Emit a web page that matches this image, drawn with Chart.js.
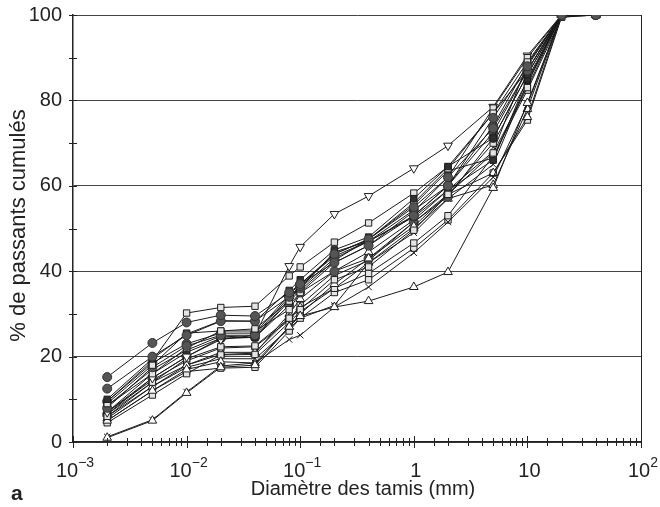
<!DOCTYPE html>
<html>
<head>
<meta charset="utf-8">
<script src="https://cdn.jsdelivr.net/npm/chart.js@4.4.0/dist/chart.umd.min.js"></script>
<style>
  html, body { margin: 0; padding: 0; background: #fff; }
  #wrap { width: 660px; height: 507px; }
</style>
</head>
<body>
<div id="wrap"><canvas id="grading" width="660" height="507"></canvas></div>
<script>
// sieve openings (mm)
const sieveSizes = [0.002, 0.005, 0.01, 0.02, 0.04, 0.08, 0.1, 0.2, 0.4, 1, 2, 5, 10, 20, 40];

// cumulative passing (%) per sample
const s01 = [15.2, 23.2, 28.0, 29.7, 29.5, 35.0, 37.0, 42.0, 46.0, 53.0, 60.0, 75.9, 88.0, 100, 100];
const s02 = [12.5, 20.0, 25.0, 28.3, 28.3, 34.0, 36.5, 44.0, 47.5, 55.0, 62.0, 73.5, 87.0, 100, 100];
const s03 = [10.0, 19.5, 25.3, 28.4, 28.3, 35.5, 38.0, 45.0, 48.0, 57.0, 64.5, 71.2, 86.0, 100, 100];
const s04 = [9.0, 18.0, 25.5, 26.0, 26.5, 33.0, 37.0, 44.0, 47.5, 56.0, 64.0, 77.0, 89.0, 100, 100];
const s05 = [8.0, 17.5, 22.5, 25.0, 25.0, 34.0, 36.0, 43.0, 47.0, 53.0, 60.0, 74.0, 88.5, 100, 100];
const s06 = [8.5, 16.0, 22.0, 26.0, 26.0, 31.0, 35.0, 42.0, 46.0, 54.0, 62.0, 78.2, 90.0, 100, 100];
const s07 = [7.0, 15.0, 20.0, 24.0, 25.0, 41.2, 45.7, 53.4, 57.6, 64.1, 69.4, 78.5, 90.5, 100, 100];
const s08 = [9.5, 19.0, 30.2, 31.5, 31.8, 38.9, 41.0, 46.8, 51.3, 58.3, 64.5, 77.0, 87.0, 100, 100];
const s09 = [1.0, 5.0, 11.5, 17.5, 18.0, 27.0, 29.5, 31.6, 33.0, 36.3, 39.8, 59.5, 79.4, 100, 100];
const s10 = [1.2, 5.2, 11.7, 17.8, 18.5, 24.0, 25.0, 31.6, 36.3, 44.3, 51.5, 62.0, 79.0, 100, 100];
const s11 = [6.0, 14.0, 19.5, 22.3, 22.5, 29.0, 31.0, 38.0, 41.0, 49.6, 58.0, 67.7, 83.0, 100, 100];
const s12 = [7.0, 16.0, 21.0, 24.3, 24.5, 33.5, 36.0, 44.5, 47.0, 52.7, 59.0, 66.0, 85.0, 100, 100];
const s13 = [5.0, 12.0, 17.0, 18.8, 18.5, 27.0, 30.0, 37.0, 43.0, 50.5, 58.0, 63.0, 76.1, 100, 100];
const s14 = [4.5, 11.0, 16.0, 20.4, 20.5, 28.0, 30.5, 36.0, 39.5, 46.6, 53.0, 67.0, 82.4, 99.5, 100];
const s15 = [6.5, 15.0, 20.0, 24.3, 24.5, 32.0, 35.0, 40.0, 43.0, 51.5, 57.5, 71.2, 86.0, 100, 100];
const s16 = [5.5, 13.0, 18.0, 21.0, 21.0, 29.0, 31.5, 36.0, 42.0, 50.0, 57.0, 60.2, 78.0, 100, 100];
const s17 = [5.0, 12.0, 16.5, 17.3, 17.5, 26.0, 29.0, 35.0, 38.0, 45.4, 52.0, 63.0, 75.4, 99.5, 100];
const s18 = [6.0, 13.0, 17.5, 19.5, 19.5, 26.5, 29.0, 32.0, 42.0, 49.0, 57.0, 65.0, 84.0, 100, 100];
const s19 = [9.5, 18.5, 23.0, 25.5, 25.5, 34.5, 37.0, 43.5, 47.0, 54.3, 60.0, 72.5, 87.0, 100, 100];
const s20 = [8.5, 17.0, 21.5, 24.8, 24.5, 33.0, 35.5, 42.5, 47.5, 55.5, 63.5, 66.5, 84.0, 100, 100];
const s21 = [7.0, 14.5, 19.0, 22.0, 22.3, 28.5, 32.0, 39.0, 42.5, 51.5, 58.0, 70.0, 84.5, 100, 100];
const s22 = [6.5, 14.0, 18.0, 20.5, 20.8, 30.0, 33.5, 40.0, 44.5, 52.0, 59.0, 68.0, 88.5, 100, 100];

const samples = [s01, s02, s03, s04, s05, s06, s07, s08, s09, s10, s11,
                 s12, s13, s14, s15, s16, s17, s18, s19, s20, s21, s22];
const sampleMarkers = ['circ', 'circ', 'sqD', 'sqO', 'circ', 'sqO', 'triD', 'sqO', 'triU', 'cross', 'sqO',
                       'sqD', 'triU', 'sqO', 'circ', 'triU', 'sqO', 'cross', 'circ', 'sqD', 'sqO', 'triU'];

const yTicks = [0, 20, 40, 60, 80, 100];
// decade labels: base and exponent ('' = no exponent)
const xTickBases = { '-3': '10', '-2': '10', '-1': '10', '0': '1', '1': '10', '2': '10' };
const xTickExps  = { '-3': '−3', '-2': '−2', '-1': '−1', '0': '', '1': '', '2': '2' };
const xTitle = 'Diamètre des tamis (mm)';
const yTitle = '% de passants cumulés';
const panelLetter = 'a';

const FONT = '"Liberation Sans", Arial, sans-serif';

const markerStyles = {
    circ:  { pointStyle: 'circle',   backgroundColor: '#555555', borderColor: '#333333', radius: 4.5, rotation: 0 },
    sqO:   { pointStyle: 'rect',     backgroundColor: '#e4e4e4', borderColor: '#1e1e1e', radius: 4.5, rotation: 0 },
    sqD:   { pointStyle: 'rect',     backgroundColor: '#303030', borderColor: '#1e1e1e', radius: 4.5, rotation: 0 },
    triU:  { pointStyle: 'triangle', backgroundColor: '#ffffff', borderColor: '#1e1e1e', radius: 5,   rotation: 0 },
    triD:  { pointStyle: 'triangle', backgroundColor: '#ffffff', borderColor: '#1e1e1e', radius: 5,   rotation: 180 },
    cross: { pointStyle: 'crossRot', backgroundColor: '#ffffff', borderColor: '#1e1e1e', radius: 4.5, rotation: 0 }
};

const isDecade = v => Math.abs(Math.log10(v) - Math.round(Math.log10(v))) < 1e-6;

const datasets = samples.map((vals, i) => {
    const m = markerStyles[sampleMarkers[i]];
    return {
        data: vals.map((v, k) => ({ x: sieveSizes[k], y: v })),
        borderColor: '#1a1a1a',
        borderWidth: 1,
        pointStyle: m.pointStyle,
        pointRotation: m.rotation,
        pointRadius: m.radius,
        pointBackgroundColor: m.backgroundColor,
        pointBorderColor: m.borderColor,
        pointBorderWidth: 1,
        fill: false,
        tension: 0
    };
});

// tick marks crossing the axes, right frame, decade labels, titles and panel letter
const framePlugin = {
    id: 'frame',
    afterDraw(chart) {
        const { ctx, chartArea: { left, right, top, bottom }, scales: { x, y } } = chart;
        ctx.save();
        ctx.strokeStyle = '#222';
        ctx.lineWidth = 1;
        ctx.beginPath();
        x.ticks.forEach(t => {
            const px = Math.round(x.getPixelForValue(t.value)) + 0.5;
            const d = isDecade(t.value) ? 6 : 4;
            ctx.moveTo(px, bottom - d);
            ctx.lineTo(px, bottom + d);
        });
        for (let v = 0; v <= 100; v += 10) {
            const py = Math.round(y.getPixelForValue(v)) + 0.5;
            ctx.moveTo(left - 4, py);
            ctx.lineTo(left + 4, py);
        }
        ctx.moveTo(right + 0.5, top);
        ctx.lineTo(right + 0.5, bottom);
        ctx.stroke();

        ctx.fillStyle = '#222';
        ctx.textBaseline = 'alphabetic';
        // x decade labels
        x.ticks.filter(t => isDecade(t.value)).forEach(t => {
            const key = String(Math.round(Math.log10(t.value)));
            const base = xTickBases[key], exp = xTickExps[key];
            ctx.font = '20px ' + FONT;
            const wb = ctx.measureText(base).width;
            ctx.font = '14px ' + FONT;
            const we = exp ? ctx.measureText(exp).width : 0;
            const px = x.getPixelForValue(t.value) + 2;
            const x0 = px - (wb + we) / 2;
            ctx.textAlign = 'left';
            ctx.font = '20px ' + FONT;
            ctx.fillText(base, x0, 477);
            if (exp) {
                ctx.font = '14px ' + FONT;
                ctx.fillText(exp, x0 + wb, 467);
            }
        });
        // axis titles
        ctx.textAlign = 'center';
        ctx.font = '20px ' + FONT;
        ctx.fillText(xTitle, 363, 495);
        ctx.save();
        ctx.translate(25, (top + bottom) / 2 - 3);
        ctx.rotate(-Math.PI / 2);
        ctx.font = '22px ' + FONT;
        ctx.fillText(yTitle, 0, 0);
        ctx.restore();
        // panel letter
        ctx.textAlign = 'left';
        ctx.font = 'bold 21px ' + FONT;
        ctx.fillText(panelLetter, 11, 500);
        ctx.restore();
    }
};

new Chart(document.getElementById('grading'), {
    type: 'line',
    data: { datasets },
    plugins: [framePlugin],
    options: {
        responsive: false,
        animation: false,
        layout: { padding: { left: 0, right: 19, top: 15, bottom: 0 } },
        plugins: { legend: { display: false }, tooltip: { enabled: false } },
        scales: {
            x: {
                type: 'logarithmic',
                min: 0.001,
                max: 100,
                afterFit(scale) {
                    scale.height = 65;
                    scale.paddingLeft = 0;
                    scale.paddingRight = 0;
                },
                border: { display: true, color: '#222', width: 1.5 },
                grid: { drawOnChartArea: false, drawTicks: false },
                ticks: {
                    autoSkip: false,
                    maxRotation: 0,
                    callback: () => ''
                }
            },
            y: {
                min: 0,
                max: 100,
                afterFit(scale) {
                    scale.width = 73;
                    scale.paddingTop = 0;
                    scale.paddingBottom = 0;
                },
                afterBuildTicks(scale) { scale.ticks = yTicks.map(v => ({ value: v })); },
                border: { display: true, color: '#222', width: 1.5 },
                grid: { drawTicks: false, color: '#444', lineWidth: 1 },
                ticks: {
                    padding: 11,
                    color: '#222',
                    font: { family: FONT, size: 20 }
                }
            }
        }
    }
});
</script>
</body>
</html>
